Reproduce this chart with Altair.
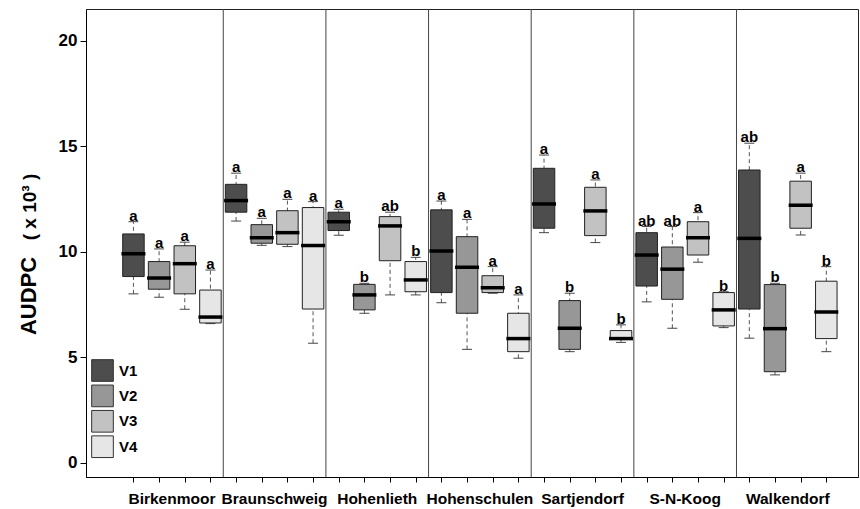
import altair as alt
import pandas as pd

F = "Liberation Sans, Arial, sans-serif"

groups = ["Birkenmoor", "Braunschweig", "Hohenlieth", "Hohenschulen",
          "Sartjendorf", "S-N-Koog", "Walkendorf"]
varieties = ["V1", "V2", "V3", "V4"]
colors = ["#4d4d4d", "#979797", "#c2c2c2", "#e6e6e6"]

# per group: V1, V2, V3, V4
lower = [8.00, 7.84, 7.27, 6.59,
         11.45, 10.30, 10.24, 5.66,
         10.78, 7.08, 7.95, 7.95,
         7.58, 5.37, 8.03, 4.95,
         10.90, 5.26, 10.43, 5.70,
         7.62, 6.37, 9.50, 6.40,
         5.90, 4.16, 10.79, 5.26]
q1 = [8.82, 8.22, 8.00, 6.62,
      11.87, 10.40, 10.35, 7.28,
      11.00, 7.24, 9.57, 8.10,
      8.06, 7.08, 8.06, 5.26,
      11.11, 5.37, 10.76, 5.84,
      8.37, 7.74, 9.84, 6.48,
      7.28, 4.31, 11.11, 5.88]
median = [9.90, 8.75, 9.43, 6.90,
          12.42, 10.66, 10.90, 10.29,
          11.42, 7.95, 11.22, 8.66,
          10.03, 9.26, 8.29, 5.88,
          12.26, 6.37, 11.93, 5.88,
          9.84, 9.17, 10.66, 7.24,
          10.63, 6.35, 12.20, 7.14]
q3 = [10.84, 9.53, 10.28, 8.18,
      13.19, 11.28, 11.94, 12.09,
      11.87, 8.45, 11.66, 9.53,
      11.98, 10.71, 8.86, 7.08,
      13.95, 7.68, 13.05, 6.26,
      10.90, 10.22, 11.42, 8.06,
      13.87, 8.44, 13.34, 8.60]
upper = [11.42, 10.13, 10.45, 9.13,
         13.72, 11.58, 12.48, 12.37,
         12.01, 8.50, 11.87, 9.73,
         12.40, 11.53, 9.29, 7.95,
         14.58, 8.03, 13.40, 6.53,
         11.19, 11.19, 11.85, 8.10,
         15.14, 8.50, 13.72, 9.29]
letters = ["a", "a", "a", "a",
           "a", "a", "a", "a",
           "a", "b", "ab", "b",
           "a", "a", "a", "a",
           "a", "b", "a", "b",
           "ab", "ab", "a", "b",
           "ab", "b", "a", "b"]
y_ticks = [0, 5, 10, 15, 20]

rows = []
for gi, g in enumerate(groups):
    for vi, v in enumerate(varieties):
        k = gi * 4 + vi
        rows.append(dict(group=g, variety=v, pos=k + 1, lo=lower[k], q1=q1[k],
                         med=median[k], q3=q3[k], hi=upper[k], letter=letters[k]))
df = pd.DataFrame(rows)
sep_df = pd.DataFrame({"sep": [gi * 4 + 0.5 for gi in range(1, len(groups))]})
lab_df = pd.DataFrame({"group": groups, "center": [gi * 4 + 2.5 for gi in range(len(groups))]})

W, H = 772, 468
xs = alt.Scale(domain=[-0.654, 29.04], nice=False, zero=False)
ys = alt.Scale(domain=[-0.68, 21.5], nice=False, zero=False)
xaxis = alt.Axis(values=list(range(1, 29)), labels=False, title=None, grid=False,
                 tickSize=5, tickColor="black", domainColor="black")
yaxis = alt.Axis(values=y_ticks, title=None, grid=False, tickSize=6, tickColor="black",
                 domainColor="black", labelFontSize=17, labelFontWeight="bold",
                 labelFont=F, labelColor="black", labelPadding=3)


def X(f):
    return alt.X(f, type="quantitative", scale=xs, axis=xaxis)


def Y(f):
    return alt.Y(f, type="quantitative", scale=ys, axis=yaxis)


base = alt.Chart(df)

seps = alt.Chart(sep_df).mark_rule(color="#444", strokeWidth=1).encode(x=X("sep"))

whisk = base.mark_rule(strokeDash=[4, 3], color="#555", strokeWidth=1).encode(
    x=X("pos"), y=Y("lo"), y2="hi")
cap_lo = base.mark_tick(orient="horizontal", size=10, thickness=1, color="#444",
                        opacity=1).encode(x=X("pos"), y=Y("lo"))
cap_hi = base.mark_tick(orient="horizontal", size=10, thickness=1, color="#444",
                        opacity=1).encode(x=X("pos"), y=Y("hi"))

box = base.mark_bar(size=21.5, stroke="#222", strokeWidth=1, opacity=1).encode(
    x=X("pos"), y=Y("q1"), y2="q3",
    color=alt.Color("variety:N", scale=alt.Scale(domain=varieties, range=colors),
                    legend=alt.Legend(orient="none", legendX=5, legendY=350, title=None,
                                      symbolType="square", symbolSize=470,
                                      symbolStrokeColor="#333", symbolStrokeWidth=1,
                                      symbolOpacity=1, labelFontSize=15,
                                      labelFontWeight="bold", labelFont=F,
                                      labelColor="black", rowPadding=-1.6,
                                      labelOffset=5, padding=0)))

med = base.mark_tick(orient="horizontal", size=24, thickness=3.5, color="black",
                     opacity=1).encode(x=X("pos"), y=Y("med"))

lets = base.mark_text(fontSize=15, fontWeight="bold", font=F, baseline="alphabetic",
                      dy=-1, color="black").encode(x=X("pos"), y=Y("hi"), text="letter:N")

glabels = alt.Chart(lab_df).mark_text(fontSize=15.5, fontWeight="bold", font=F,
                                       baseline="alphabetic", color="black").encode(
    x=X("center"), y=alt.value(H + 27), text="group:N")

t1 = alt.Chart(pd.DataFrame({"t": ["AUDPC"]})).mark_text(
    angle=270, fontSize=22, fontWeight="bold", font=F, baseline="alphabetic",
    align="center", color="black").encode(x=alt.value(-50), y=alt.value(287), text="t:N")
t2 = alt.Chart(pd.DataFrame({"t": ["( x  10³ )"]})).mark_text(
    angle=270, fontSize=19, fontWeight="bold", font=F, baseline="alphabetic",
    align="center", color="black").encode(x=alt.value(-50), y=alt.value(198), text="t:N")

chart = alt.layer(seps, whisk, cap_lo, cap_hi, box, med, lets, glabels, t1, t2).properties(
    width=W, height=H,
    autosize=alt.AutoSizeParams(type="none"),
    padding={"left": 86, "top": 9, "right": 2, "bottom": 32},
    background="white",
).configure_view(stroke="#222", strokeWidth=1)

chart.save("out.html", embed_options={"renderer": "svg", "actions": False})
